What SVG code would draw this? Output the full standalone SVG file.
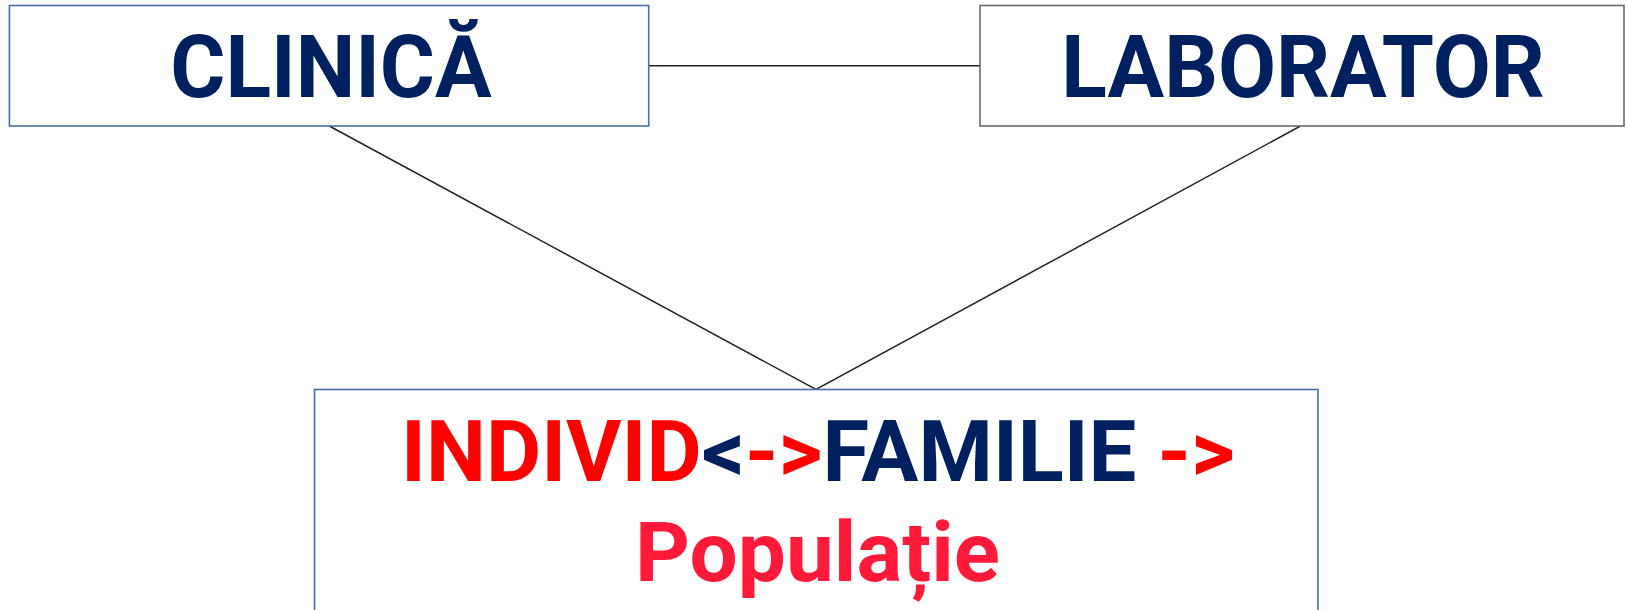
<svg xmlns="http://www.w3.org/2000/svg" width="1627" height="610" viewBox="0 0 1627 610">
<style>
.box{fill:#ffffff;stroke-width:1.6}
.blue{stroke:#4a6fa5}
.grey{stroke:#6b6b6b}
.lbl{font-family:Roboto,"Liberation Sans",sans-serif;font-weight:bold}
.navy{fill:#002060}
.red{fill:#ff0000}
.crim{fill:#ff1a3a}
.conn{stroke:#222222;stroke-width:1.5;fill:none}
</style>
<rect width="1627" height="610" fill="#ffffff"/>
<g id="connectors">
<line class="conn" x1="648.7" y1="65.7" x2="980" y2="65.7"/>
<polyline class="conn" points="329.3,126 816,389.5 1300.5,126"/>
</g>
<g id="clinica">
<rect class="box blue" x="9.4" y="5.5" width="639.3" height="120.5"/>
<text class="lbl navy" transform="translate(331 96.7) scale(0.958 1)" x="0" y="0" font-size="88" text-anchor="middle">CLINICĂ</text>
</g>
<g id="laborator">
<rect class="box grey" x="980" y="5.5" width="644" height="120.5"/>
<text class="lbl navy" transform="translate(1303 97) scale(0.958 1)" x="0" y="0" font-size="88" text-anchor="middle">LABORATOR</text>
</g>
<g id="individ">
<rect class="box blue" x="314.5" y="389.5" width="1003.5" height="240"/>
<text class="lbl" x="818" y="480.7" font-size="85" text-anchor="middle"><tspan class="red">INDIVID</tspan><tspan class="navy">&lt;</tspan><tspan class="red">-&gt;</tspan><tspan class="navy">FAMILIE</tspan><tspan class="red"> -&gt;</tspan></text>
<text class="lbl crim" transform="translate(817.5 580.7) scale(1.03 1)" x="0" y="0" font-size="83" text-anchor="middle">Populație</text>
</g>
</svg>
